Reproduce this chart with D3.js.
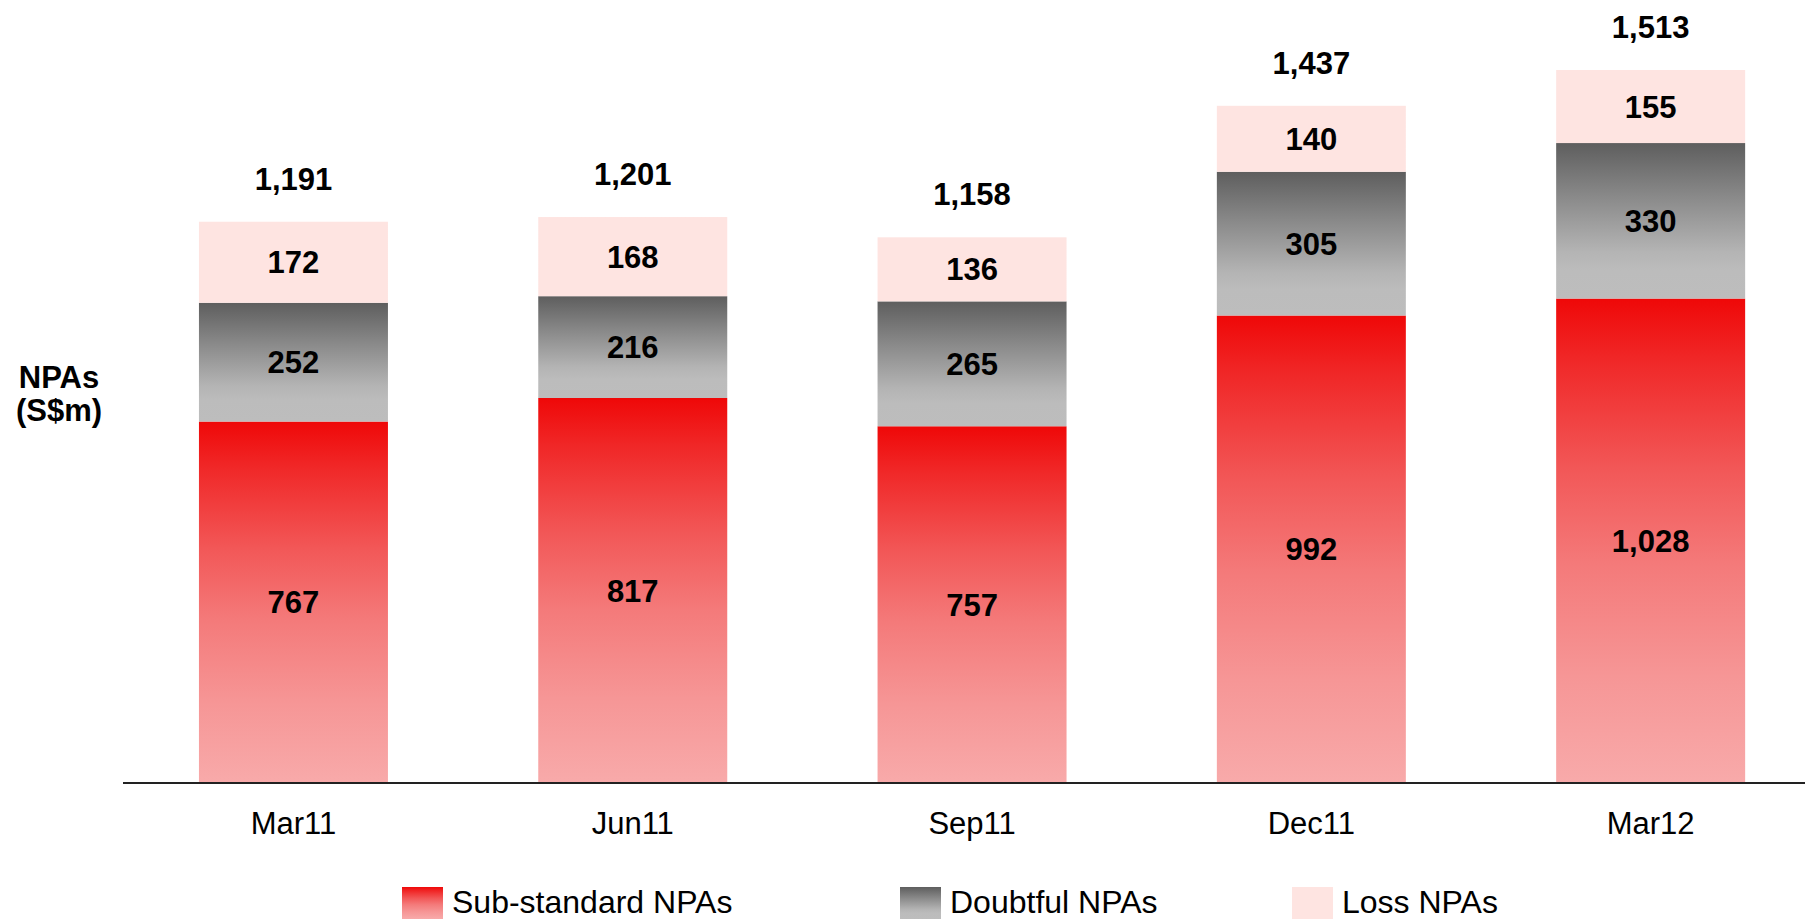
<!DOCTYPE html>
<html>
<head>
<meta charset="utf-8">
<script src="https://cdn.jsdelivr.net/npm/d3@7"></script>
<style>
  html, body { margin: 0; padding: 0; background: #fff; }
  svg { display: block; font-family: Arial, "Liberation Sans", sans-serif; }
</style>
</head>
<body>
<svg id="chart" width="1805" height="919"></svg>
<script>
const categories = ["Mar11", "Jun11", "Sep11", "Dec11", "Mar12"];
const subStandard = [767, 817, 757, 992, 1028];
const doubtful = [252, 216, 265, 305, 330];
const loss = [172, 168, 136, 140, 155];
const totals = [1191, 1201, 1158, 1437, 1513];
const seriesNames = ["Sub-standard NPAs", "Doubtful NPAs", "Loss NPAs"];
const yTitle = ["NPAs", "(S$m)"];

const svg = d3.select("#chart");
const W = 1805, H = 919;

const x = d3.scaleBand().domain(categories).range([123.8, 1820.3]).paddingInner(0.443).paddingOuter(0.2215);
const y = d3.scaleLinear().domain([0, 1600]).range([783, 29]);

const defs = svg.append("defs");
function grad(id, stops) {
  const g = defs.append("linearGradient").attr("id", id).attr("x1", 0).attr("y1", 0).attr("x2", 0).attr("y2", 1);
  stops.forEach(s => g.append("stop").attr("offset", s[0]).attr("stop-color", s[1]));
}
grad("gRed", [[0, "#ef0808"], [0.12, "#f02626"], [0.35, "#f25757"], [0.55, "#f47a7a"], [0.78, "#f69696"], [1, "#f8aaaa"]]);
grad("gGray", [[0, "#5e5e5e"], [0.35, "#8a8a8a"], [0.7, "#b4b4b4"], [0.82, "#bcbcbc"], [1, "#bdbdbd"]]);
grad("gLoss", [[0, "#fee4e1"], [1, "#fee4e1"]]);
const fills = ["url(#gRed)", "url(#gGray)", "url(#gLoss)"];

const rows = categories.map((c, i) => ({ cat: c, vals: [subStandard[i], doubtful[i], loss[i]], total: totals[i] }));
const stack = d3.stack().keys([0, 1, 2]).value((d, k) => d.vals[k]);
const layers = stack(rows);

const g = svg.append("g");
layers.forEach((layer, k) => {
  const lg = g.append("g");
  lg.selectAll("rect").data(layer).enter().append("rect")
    .attr("x", d => x(d.data.cat))
    .attr("width", x.bandwidth())
    .attr("y", d => y(d[1]))
    .attr("height", d => y(d[0]) - y(d[1]))
    .attr("fill", fills[k]);
  lg.selectAll("text").data(layer).enter().append("text")
    .attr("x", d => x(d.data.cat) + x.bandwidth() / 2)
    .attr("y", d => (y(d[0]) + y(d[1])) / 2)
    .attr("dy", "0.36em")
    .attr("text-anchor", "middle")
    .attr("font-weight", "bold")
    .attr("font-size", "31px")
    .attr("fill", "#000")
    .text(d => d3.format(",")(d.data.vals[k]));
});

// totals
g.selectAll("text.total").data(rows).enter().append("text")
  .attr("class", "total")
  .attr("x", d => x(d.cat) + x.bandwidth() / 2)
  .attr("y", d => y(d.total) - 43)
  .attr("dy", "0.36em")
  .attr("text-anchor", "middle")
  .attr("font-weight", "bold")
  .attr("font-size", "31px")
  .attr("fill", "#000")
  .text(d => d3.format(",")(d.total));

// x axis
const xAxis = d3.axisBottom(x).tickSize(0).tickPadding(0);
const ax = svg.append("g").attr("transform", "translate(0,783)").call(xAxis);
ax.select(".domain").remove();
ax.append("line").attr("x1", 123).attr("x2", W).attr("y1", 0).attr("y2", 0)
  .attr("stroke", "#222").attr("stroke-width", 2.2);
ax.selectAll(".tick text")
  .attr("y", 51)
  .attr("dy", 0)
  .attr("font-size", "31px")
  .attr("font-family", "Arial, 'Liberation Sans', sans-serif")
  .attr("fill", "#000");

// y title
const yt = svg.append("text").attr("text-anchor", "middle").attr("font-weight", "bold").attr("font-size", "31px").attr("fill", "#000");
yt.append("tspan").attr("x", 59).attr("y", 388).text(yTitle[0]);
yt.append("tspan").attr("x", 59).attr("y", 421).text(yTitle[1]);

// legend
const legX = [402, 900, 1292];
const leg = svg.append("g");
seriesNames.forEach((name, k) => {
  leg.append("rect").attr("x", legX[k]).attr("y", 887).attr("width", 41).attr("height", 32).attr("fill", fills[k]);
  leg.append("text").attr("x", legX[k] + 50).attr("y", 913).attr("font-size", "32px").attr("fill", "#000").text(name);
});
</script>
</body>
</html>
